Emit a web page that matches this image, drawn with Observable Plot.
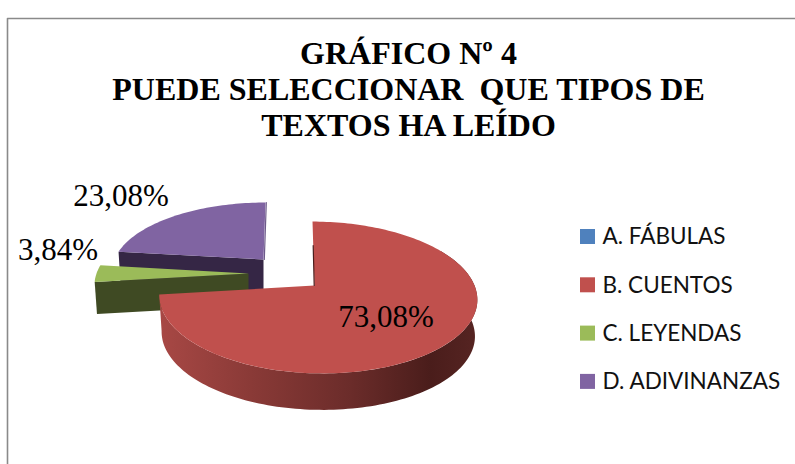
<!DOCTYPE html>
<html>
<head>
<meta charset="utf-8">
<script src="https://cdn.jsdelivr.net/npm/d3@7"></script>
<script src="https://cdn.jsdelivr.net/npm/@observablehq/plot@0.6"></script>
<style>html,body{margin:0;padding:0;background:#fff}svg{display:block}</style>
</head>
<body>
<div id="chart"></div>
<script>
const categories = ["A. FÁBULAS", "B. CUENTOS", "C. LEYENDAS", "D. ADIVINANZAS"];
const percentages = [0, 73.08, 3.84, 23.08];
const labels = ["", "73,08%", "3,84%", "23,08%"];
const colors = ["#4F81BD", "#C0504D", "#9BBB59", "#8064A2"];
const titleLines = ["GRÁFICO Nº 4", "PUEDE SELECCIONAR  QUE TIPOS DE", "TEXTOS HA LEÍDO"];

// 3D layout of the exploded, tilted pie (one entry per non-empty slice)
const k = -0.158;
const layout = {
  1: {cx: 317, cy: 285, apexDx: -3, rx: 157, b: 74, shear: 5, depth: 36.5, side: "url(#rimGrad)"},
  2: {cx: 248, cy: 273, apexDx: 0, rx: 152, b: 70, shear: 0, depth: 32, side: "#3f4a23"},
  3: {cx: 263, cy: 259, apexDx: 0, rx: 149, b: 66, shear: -2, depth: 36, side: "#352645"}
};
const labelPos = {1: [385.5, 326], 2: [57.5, 259], 3: [120.5, 205]};
const rimStops = [[158, "#a84845"], [250, "#8a3a37"], [350, "#6b2c2a"], [430, "#4a1d1b"], [476, "#562422"]];

const arcs = d3.pie().sort(null).value(d => d)(percentages);
function rim(L, th, low) {
  const u = Math.sin(th), v = -Math.cos(th), w = 1 + k * v;
  const sx = low ? 0.985 : 1;
  return [L.cx + sx * (L.rx * u / w + L.shear * v), L.cy + L.b * v / w + (low ? L.depth : 0)];
}
const apex = (L, low) => [L.cx + L.apexDx, L.cy + (low ? L.depth : 0)];
const deg = Math.PI / 180;

const polys = [];
function addPoly(id, color, pts) {
  pts.forEach(p => polys.push({id, color, x: p[0], y: p[1]}));
}
function arcPts(L, a0, a1, low) {
  const n = Math.max(2, Math.ceil((a1 - a0) / (1.5 * deg)));
  return d3.range(n + 1).map(i => rim(L, a0 + (a1 - a0) * i / n, low));
}
// back to front: purple, green, red
[3, 2, 1].forEach(i => {
  const L = layout[i], a = arcs[i];
  if (i === 1) {
    const from = a.startAngle + 60 * deg;
    addPoly("rim1", L.side, [...arcPts(L, from, a.endAngle, false), ...arcPts(L, from, a.endAngle, true).reverse()]);
  } else {
    addPoly(`side${i}`, L.side, [rim(L, a.startAngle, false), apex(L, false), apex(L, true), rim(L, a.startAngle, true)]);
  }
  addPoly(`top${i}`, colors[i], [apex(L, false), ...arcPts(L, a.startAngle, a.endAngle, false)]);
});

// thin visible cut edges
const edges = [];
{
  const L3 = layout[3], top3 = rim(L3, arcs[3].endAngle, false), ap3 = apex(L3, false);
  [[ap3[0] + 0.8, ap3[1]], [top3[0] + 0.8, top3[1]]].forEach(p => edges.push({id: "e3", color: "#6d5a8a", x: p[0], y: p[1]}));
  const L1 = layout[1], top1 = rim(L1, arcs[1].startAngle, false), ap1 = apex(L1, false);
  [[ap1[0] - 0.3, ap1[1]], [(ap1[0] + top1[0]) / 2 - 0.3, (ap1[1] + top1[1]) / 2 - 8]].forEach(p => edges.push({id: "e1", color: "#4a1d1b", x: p[0], y: p[1]}));
}

const dataLabels = categories.map((c, i) => ({label: labels[i], pos: labelPos[i]})).filter(d => d.label);
const legendRows = categories.map((c, i) => ({c, color: colors[i], i}));
const legendY = i => 236.5 + i * 48.3;
const frame = [{x: 795, y: 18}, {x: 7, y: 18}, {x: 7, y: 464}];

// horizontal shading of the pie's rim
const rimGradient = () => {
  const defs = d3.create("svg:defs");
  const g = defs.append("linearGradient").attr("id", "rimGrad").attr("gradientUnits", "userSpaceOnUse")
    .attr("x1", rimStops[0][0]).attr("x2", rimStops[rimStops.length - 1][0]).attr("y1", 0).attr("y2", 0);
  const span = rimStops[rimStops.length - 1][0] - rimStops[0][0];
  rimStops.forEach(([x, c]) => g.append("stop").attr("offset", (x - rimStops[0][0]) / span).attr("stop-color", c));
  return defs.node();
};

const chart = Plot.plot({
  width: 795, height: 464, margin: 0,
  style: {background: "#fff", overflow: "hidden"},
  x: {domain: [0, 795], range: [0, 795], axis: null},
  y: {domain: [0, 464], range: [0, 464], axis: null},
  color: {type: "identity"},
  marks: [
    rimGradient,
    Plot.line(frame, {x: "x", y: "y", stroke: "#8a8a8a", strokeWidth: 1.6}),
    Plot.line(polys, {x: "x", y: "y", z: "id", fill: "color", stroke: "none"}),
    Plot.line(edges, {x: "x", y: "y", z: "id", stroke: "color", strokeWidth: 1.2}),
    Plot.text(titleLines, {
      x: () => 408, y: (d, i) => 63 + i * 36.3, text: d => d, lineAnchor: "bottom",
      fontFamily: "Liberation Serif", fontWeight: "bold", fontSize: 32, fill: "#000", textAnchor: "middle"
    }),
    Plot.text(dataLabels, {
      x: d => d.pos[0], y: d => d.pos[1], text: "label", lineAnchor: "bottom",
      fontFamily: "Liberation Serif", fontSize: 31, fill: "#000", textAnchor: "middle"
    }),
    Plot.rect(legendRows, {
      x1: () => 580, x2: () => 595, y1: d => legendY(d.i) - 7.5, y2: d => legendY(d.i) + 7.5, fill: "color"
    }),
    Plot.text(legendRows, {
      x: () => 602, y: d => legendY(d.i), text: "c", textAnchor: "start", lineAnchor: "middle",
      fontFamily: "Lato", fontSize: 22.5, fill: "#111"
    })
  ]
});
document.getElementById("chart").append(chart);
</script>
</body>
</html>
